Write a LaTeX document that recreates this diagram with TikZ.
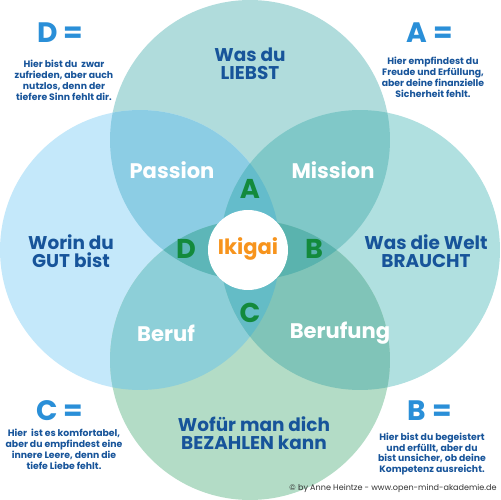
\documentclass[tikz,border=0pt]{standalone}
\usepackage{fontspec}
\setmainfont{Poppins}
\definecolor{ctop}{HTML}{B0DCDC}
\definecolor{cleft}{HTML}{C4E8FA}
\definecolor{cright}{HTML}{B0E0E0}
\definecolor{cbot}{HTML}{B3DCC6}
\definecolor{cpass}{HTML}{8CCDE4}
\definecolor{cmiss}{HTML}{80C8C8}
\definecolor{cberuf}{HTML}{8DCFD8}
\definecolor{cberufung}{HTML}{80C4B8}
\definecolor{ctripA}{HTML}{64BCCB}
\definecolor{ctripC}{HTML}{64BCC6}
\definecolor{ctripD}{HTML}{5DB6B8}
\definecolor{ctripB}{HTML}{5AB3AE}
\definecolor{tblue}{HTML}{17549A}
\definecolor{hblue}{HTML}{2A8FD8}
\definecolor{tgreen}{HTML}{138A3C}
\definecolor{torange}{HTML}{F7941D}
\tikzset{
  mainlabel/.style={font=\bfseries\fontsize{10.5}{10.5}\selectfont, text=tblue, align=center, inner sep=0pt},
  pairlabel/.style={font=\bfseries\fontsize{12}{12}\selectfont, text=white, inner sep=0pt},
  letter/.style={font=\bfseries\fontsize{15.5}{15.5}\selectfont, text=tgreen, inner sep=0pt},
  headlabel/.style={font=\bfseries\fontsize{16}{16}\selectfont, text=hblue, inner sep=0pt},
  smalltext/.style={font=\bfseries\fontsize{5.3}{6.2}\selectfont, text=tblue, align=center, inner sep=0pt},
}
\begin{document}
\begin{tikzpicture}[x=0.02cm,y=-0.02cm]
\useasboundingbox (0,0) rectangle (500,500);
\fill[white] (0,0) rectangle (500,500);
\coordinate (ct) at (250,140);
\coordinate (cl) at (140,250);
\coordinate (cr) at (360,250);
\coordinate (cb) at (250,360);
\def\R{2.8cm}
% single circles
\fill[ctop] (ct) circle[radius=\R];
\fill[cleft] (cl) circle[radius=\R];
\fill[cright] (cr) circle[radius=\R];
\fill[cbot] (cb) circle[radius=\R];
% pair regions
\begin{scope}\clip (ct) circle[radius=\R]; \fill[cpass] (cl) circle[radius=\R]; \fill[cmiss] (cr) circle[radius=\R]; \end{scope}
\begin{scope}\clip (cb) circle[radius=\R]; \fill[cberuf] (cl) circle[radius=\R]; \fill[cberufung] (cr) circle[radius=\R]; \end{scope}
% triple regions
\begin{scope}\clip (ct) circle[radius=\R]; \clip (cl) circle[radius=\R]; \fill[ctripA] (cr) circle[radius=\R]; \end{scope}
\begin{scope}\clip (cb) circle[radius=\R]; \clip (cl) circle[radius=\R]; \fill[ctripC] (cr) circle[radius=\R]; \end{scope}
\begin{scope}\clip (ct) circle[radius=\R]; \clip (cb) circle[radius=\R]; \fill[ctripD] (cl) circle[radius=\R]; \end{scope}
\begin{scope}\clip (ct) circle[radius=\R]; \clip (cb) circle[radius=\R]; \fill[ctripB] (cr) circle[radius=\R]; \end{scope}
% center
\fill[white] (248,250) circle[radius=0.8cm];
\node[font=\bfseries\fontsize{12}{12}\selectfont, text=torange, inner sep=0pt] (ikigai) at (248,249) {Ikigai};
% main labels
\node[mainlabel] (liebst) at (250,64) {Was du\\LIEBST};
\node[mainlabel] (gut) at (71,251) {Worin du\\GUT bist};
\node[mainlabel] (welt) at (426,251) {Was die Welt\\BRAUCHT};
\node[mainlabel] (bezahlen) at (254,433) {Wofür man dich\\BEZAHLEN kann};
% pair labels
\node[pairlabel] (passion) at (172,170) {Passion};
\node[pairlabel] (mission) at (333,170) {Mission};
\node[pairlabel] (beruf) at (166,333) {Beruf};
\node[pairlabel] (berufung) at (340,333) {Berufung};
% letters
\node[letter] (la) at (250,189) {A};
\node[letter] (lb) at (314,249) {B};
\node[letter] (lc) at (250,313) {C};
\node[letter] (ld) at (186,249) {D};
% corner headings
\node[headlabel] (hd) at (60,33) {D =};
\node[headlabel] (ha) at (430,33) {A =};
\node[headlabel] (hc) at (60,411) {C =};
\node[headlabel] (hb) at (430,411) {B =};
\node[smalltext] (td) at (64,80) {Hier bist du\ \ zwar\\zufrieden, aber auch\\nutzlos, denn der\\tiefere Sinn fehlt dir.};
\node[smalltext] (ta) at (433,77) {Hier empfindest du\\Freude und Erfüllung,\\aber deine finanzielle\\Sicherheit fehlt.};
\node[smalltext] (tc) at (64,449) {Hier\ \ ist es komfortabel,\\aber du empfindest eine\\innere Leere, denn die\\tiefe Liebe fehlt.};
\node[smalltext] (tb) at (432,454) {Hier bist du begeistert\\und erfüllt, aber du\\bist unsicher, ob deine\\Kompetenz ausreicht.};
\node[font=\fontsize{4.6}{5}\selectfont, text=black!80, anchor=east, inner sep=0pt] (copy) at (497,488) {© by Anne Heintze - www.open-mind-akademie.de};
\end{tikzpicture}
\end{document}
